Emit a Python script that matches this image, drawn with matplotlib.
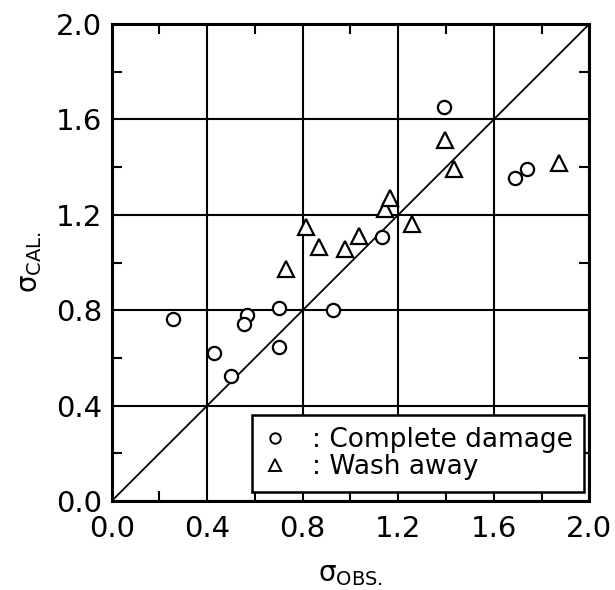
import numpy as np
import matplotlib
matplotlib.use("Agg")
import matplotlib.pyplot as plt
from matplotlib.lines import Line2D

# complete damage (circles)
cd_obs = [0.255, 0.430, 0.500, 0.565, 0.553, 0.701, 0.702, 0.928, 1.132, 1.390, 1.687, 1.739]
cd_cal = [0.762, 0.622, 0.524, 0.778, 0.742, 0.808, 0.646, 0.802, 1.106, 1.651, 1.356, 1.393]

# wash away (triangles)
wa_obs = [0.730, 0.814, 0.868, 0.976, 1.034, 1.144, 1.165, 1.258, 1.397, 1.432, 1.873]
wa_cal = [0.971, 1.150, 1.064, 1.055, 1.113, 1.224, 1.269, 1.163, 1.514, 1.391, 1.416]

ticks = [0.0, 0.4, 0.8, 1.2, 1.6, 2.0]
tick_labels = ["0.0", "0.4", "0.8", "1.2", "1.6", "2.0"]

plt.rcParams['font.family'] = 'DejaVu Sans'

fig = plt.figure(figsize=(6.15, 5.9), dpi=100)
ax = fig.add_axes([0.1816, 0.1508, 0.7766, 0.8085])

ax.plot([0, 2], [0, 2], color='black', lw=1.3, zorder=2)
ax.plot(cd_obs, cd_cal, 'o', ms=9.5, mfc='white', mec='black', mew=1.6, ls='none', zorder=3)
ax.plot(wa_obs, wa_cal, '^', ms=11, mfc='white', mec='black', mew=1.6, ls='none', zorder=3)

ax.set_xlim(0, 2)
ax.set_ylim(0, 2)
ax.set_xticks(ticks)
ax.set_yticks(ticks)
ax.set_xticklabels(tick_labels)
ax.set_yticklabels(tick_labels)
ax.set_xticks(np.arange(0.2, 2.0, 0.4), minor=True)
ax.set_yticks(np.arange(0.2, 2.0, 0.4), minor=True)
ax.grid(True, which='major', color='black', lw=1.5)
ax.tick_params(axis='x', which='major', direction='in', length=0, labelsize=21, pad=10)
ax.tick_params(axis='y', which='major', direction='in', length=0, labelsize=21, pad=7)
ax.tick_params(which='minor', direction='in', length=7, width=1.5,
               top=True, right=True)
for sp in ax.spines.values():
    sp.set_linewidth(2.2)

ax.set_xlabel(r'σ$_{\mathregular{OBS.}}$', fontsize=20, labelpad=12)
ax.set_ylabel(r'σ$_{\mathregular{CAL.}}$', fontsize=20, labelpad=8)

handles = [
    Line2D([], [], marker='o', ls='none', ms=7.5, mfc='white', mec='black', mew=1.4),
    Line2D([], [], marker='^', ls='none', ms=8.5, mfc='white', mec='black', mew=1.4),
]
leg = ax.legend(handles, [': Complete damage', ': Wash away'], loc='lower right',
                bbox_to_anchor=(0.9895, 0.019), borderaxespad=0,
                fontsize=19, frameon=True, fancybox=False, framealpha=1,
                edgecolor='black', handlelength=0.8, handletextpad=1.0,
                borderpad=0.45, labelspacing=0.05)
leg.get_frame().set_linewidth(1.8)
leg.set_zorder(5)

fig.savefig('out.png', dpi=100)
